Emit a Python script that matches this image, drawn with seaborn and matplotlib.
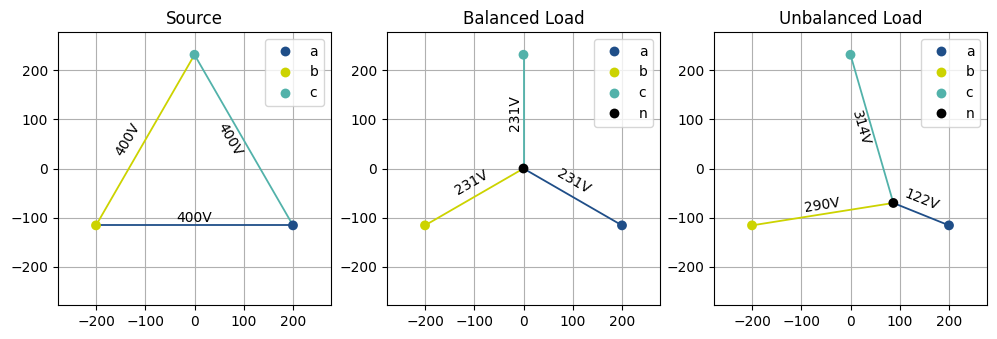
import numpy as np
import pandas as pd
import matplotlib
matplotlib.use("Agg")
import matplotlib.pyplot as plt
import seaborn as sns

# Phase voltage phasor tips (V), line-to-line 400 V system
phases = ["a", "b", "c"]
phase_x = [200.0, -200.0, 0.0]
phase_y = [-115.5, -115.5, 231.0]
phase_colors = ["#1f4e88", "#ccd300", "#52b2aa"]
neutral_color = "#000000"

# Neutral point position for each load case
balanced_n = [0.0, 0.0]
unbalanced_n = [87.0, -70.0]

# Voltage labels: (text, x, y, rotation)
source_labels = [("400V", 0, -100, 0), ("400V", -136, 58, 60), ("400V", 71, 58, -60)]
balanced_labels = [("231V", -105, -29, 30), ("231V", 102, -26, -30), ("231V", -17, 113, 90)]
unbalanced_labels = [("122V", 145, -63, -21.7), ("290V", -58, -75, 8.9), ("314V", 21, 82, -73.9)]

titles = ["Source", "Balanced Load", "Unbalanced Load"]
lim = 1.2 * 231

fig = plt.figure(figsize=(9.97, 3.39), dpi=100)
lefts = [58 / 997, 387 / 997, 714 / 997]
axes = [fig.add_axes([l, 34 / 339, 273 / 997, 273 / 339]) for l in lefts]


def draw_segment(ax, p0, p1, color):
    seg = pd.DataFrame({"x": [p0[0], p1[0]], "y": [p0[1], p1[1]]})
    sns.lineplot(data=seg, x="x", y="y", sort=False, estimator=None,
                 color=color, linewidth=1.3, ax=ax, legend=False)


def draw_points(ax, with_n=None):
    names = list(phases)
    xs = list(phase_x)
    ys = list(phase_y)
    pal = list(phase_colors)
    if with_n is not None:
        names.append("n")
        xs.append(with_n[0])
        ys.append(with_n[1])
        pal.append(neutral_color)
    df = pd.DataFrame({"x": xs, "y": ys, "phase": names})
    sns.scatterplot(data=df, x="x", y="y", hue="phase", palette=pal,
                    s=50, linewidth=0, ax=ax, zorder=3)
    ax.legend(loc="upper right")


def draw_labels(ax, labels):
    for txt, x, y, rot in labels:
        ax.text(x, y, txt, rotation=rot, ha="center", va="center",
                rotation_mode="anchor", fontsize=10)


pts = list(zip(phase_x, phase_y))

# Source: delta of line voltages
ax = axes[0]
for i in range(3):
    draw_segment(ax, pts[(i + 1) % 3], pts[i], phase_colors[i])
draw_points(ax)
draw_labels(ax, source_labels)

# Balanced and unbalanced: star to the neutral point
for ax, n, labels in [(axes[1], balanced_n, balanced_labels),
                      (axes[2], unbalanced_n, unbalanced_labels)]:
    for i in range(3):
        draw_segment(ax, n, pts[i], phase_colors[i])
    draw_points(ax, with_n=n)
    draw_labels(ax, labels)

for ax, t in zip(axes, titles):
    ax.set_xlim(-lim, lim)
    ax.set_ylim(-lim, lim)
    ax.set_xticks([-200, -100, 0, 100, 200])
    ax.set_yticks([-200, -100, 0, 100, 200])
    ax.set_xlabel("")
    ax.set_ylabel("")
    ax.set_title(t)
    ax.grid(True)
    ax.set_axisbelow(True)

fig.savefig("out.png", dpi=100)
